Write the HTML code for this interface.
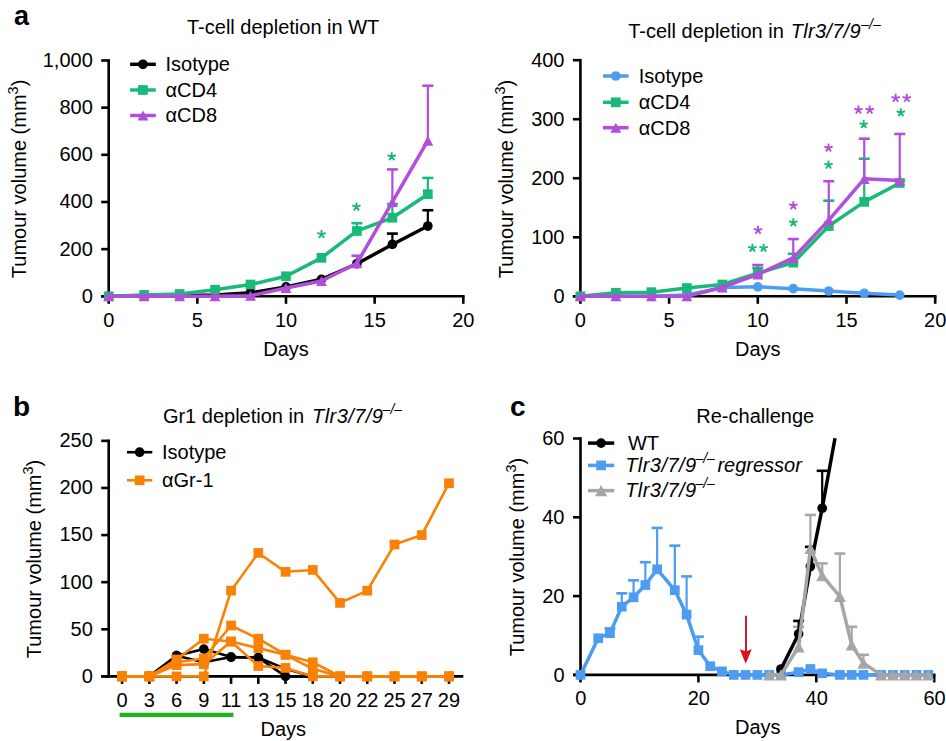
<!DOCTYPE html>
<html><head><meta charset="utf-8"><style>
html,body{margin:0;padding:0;background:#fff;}
svg{display:block;font-family:"Liberation Sans", sans-serif;}
</style></head><body>
<svg width="946" height="741" viewBox="0 0 946 741">
<rect width="946" height="741" fill="#fff"/>
<text x="14.00" y="24.70" font-size="27" text-anchor="start" font-weight="bold" font-style="normal" fill="#000" >a</text>
<text x="187.00" y="33.70" font-size="20" text-anchor="start" font-weight="normal" font-style="normal" fill="#000" >T-cell depletion in WT</text>
<line x1="108.70" y1="59.20" x2="108.70" y2="297.60" stroke="#000" stroke-width="2.6" stroke-linecap="butt"/>
<line x1="101.20" y1="296.30" x2="464.60" y2="296.30" stroke="#000" stroke-width="2.6" stroke-linecap="butt"/>
<line x1="101.20" y1="296.30" x2="108.70" y2="296.30" stroke="#000" stroke-width="2.6" stroke-linecap="butt"/>
<text x="92.80" y="302.70" font-size="20" text-anchor="end" font-weight="normal" font-style="normal" fill="#000" >0</text>
<line x1="101.20" y1="249.14" x2="108.70" y2="249.14" stroke="#000" stroke-width="2.6" stroke-linecap="butt"/>
<text x="92.80" y="255.54" font-size="20" text-anchor="end" font-weight="normal" font-style="normal" fill="#000" >200</text>
<line x1="101.20" y1="201.98" x2="108.70" y2="201.98" stroke="#000" stroke-width="2.6" stroke-linecap="butt"/>
<text x="92.80" y="208.38" font-size="20" text-anchor="end" font-weight="normal" font-style="normal" fill="#000" >400</text>
<line x1="101.20" y1="154.82" x2="108.70" y2="154.82" stroke="#000" stroke-width="2.6" stroke-linecap="butt"/>
<text x="92.80" y="161.22" font-size="20" text-anchor="end" font-weight="normal" font-style="normal" fill="#000" >600</text>
<line x1="101.20" y1="107.66" x2="108.70" y2="107.66" stroke="#000" stroke-width="2.6" stroke-linecap="butt"/>
<text x="92.80" y="114.06" font-size="20" text-anchor="end" font-weight="normal" font-style="normal" fill="#000" >800</text>
<line x1="101.20" y1="60.50" x2="108.70" y2="60.50" stroke="#000" stroke-width="2.6" stroke-linecap="butt"/>
<text x="92.80" y="66.90" font-size="20" text-anchor="end" font-weight="normal" font-style="normal" fill="#000" >1,000</text>
<line x1="108.70" y1="296.30" x2="108.70" y2="303.80" stroke="#000" stroke-width="2.6" stroke-linecap="butt"/>
<text x="108.70" y="327.30" font-size="20" text-anchor="middle" font-weight="normal" font-style="normal" fill="#000" >0</text>
<line x1="197.35" y1="296.30" x2="197.35" y2="303.80" stroke="#000" stroke-width="2.6" stroke-linecap="butt"/>
<text x="197.35" y="327.30" font-size="20" text-anchor="middle" font-weight="normal" font-style="normal" fill="#000" >5</text>
<line x1="286.00" y1="296.30" x2="286.00" y2="303.80" stroke="#000" stroke-width="2.6" stroke-linecap="butt"/>
<text x="286.00" y="327.30" font-size="20" text-anchor="middle" font-weight="normal" font-style="normal" fill="#000" >10</text>
<line x1="374.65" y1="296.30" x2="374.65" y2="303.80" stroke="#000" stroke-width="2.6" stroke-linecap="butt"/>
<text x="374.65" y="327.30" font-size="20" text-anchor="middle" font-weight="normal" font-style="normal" fill="#000" >15</text>
<line x1="463.30" y1="296.30" x2="463.30" y2="303.80" stroke="#000" stroke-width="2.6" stroke-linecap="butt"/>
<text x="463.30" y="327.30" font-size="20" text-anchor="middle" font-weight="normal" font-style="normal" fill="#000" >20</text>
<text x="286.00" y="356.00" font-size="20" text-anchor="middle" font-weight="normal" font-style="normal" fill="#000" >Days</text>
<text transform="translate(25.50,178.90) rotate(-90)" font-size="20" text-anchor="middle">Tumour volume (mm<tspan font-size="14.5" dy="-8">3</tspan><tspan dy="8">)</tspan></text>
<line x1="392.38" y1="244.42" x2="392.38" y2="233.58" stroke="#000000" stroke-width="2.2" stroke-linecap="butt"/>
<line x1="386.88" y1="233.58" x2="397.88" y2="233.58" stroke="#000000" stroke-width="2.6" stroke-linecap="butt"/>
<line x1="427.84" y1="226.03" x2="427.84" y2="210.23" stroke="#000000" stroke-width="2.2" stroke-linecap="butt"/>
<line x1="422.34" y1="210.23" x2="433.34" y2="210.23" stroke="#000000" stroke-width="2.6" stroke-linecap="butt"/>
<line x1="356.92" y1="230.98" x2="356.92" y2="223.20" stroke="#19b978" stroke-width="2.2" stroke-linecap="butt"/>
<line x1="351.42" y1="223.20" x2="362.42" y2="223.20" stroke="#19b978" stroke-width="2.6" stroke-linecap="butt"/>
<line x1="392.38" y1="217.78" x2="392.38" y2="204.10" stroke="#19b978" stroke-width="2.2" stroke-linecap="butt"/>
<line x1="386.88" y1="204.10" x2="397.88" y2="204.10" stroke="#19b978" stroke-width="2.6" stroke-linecap="butt"/>
<line x1="427.84" y1="194.20" x2="427.84" y2="177.93" stroke="#19b978" stroke-width="2.2" stroke-linecap="butt"/>
<line x1="422.34" y1="177.93" x2="433.34" y2="177.93" stroke="#19b978" stroke-width="2.6" stroke-linecap="butt"/>
<line x1="356.92" y1="263.29" x2="356.92" y2="255.74" stroke="#b24ddc" stroke-width="2.2" stroke-linecap="butt"/>
<line x1="351.42" y1="255.74" x2="362.42" y2="255.74" stroke="#b24ddc" stroke-width="2.6" stroke-linecap="butt"/>
<line x1="392.38" y1="201.98" x2="392.38" y2="169.44" stroke="#b24ddc" stroke-width="2.2" stroke-linecap="butt"/>
<line x1="386.88" y1="169.44" x2="397.88" y2="169.44" stroke="#b24ddc" stroke-width="2.6" stroke-linecap="butt"/>
<line x1="427.84" y1="140.67" x2="427.84" y2="85.73" stroke="#b24ddc" stroke-width="2.2" stroke-linecap="butt"/>
<line x1="422.34" y1="85.73" x2="433.34" y2="85.73" stroke="#b24ddc" stroke-width="2.6" stroke-linecap="butt"/>
<polyline points="108.70,296.30 144.16,296.06 179.62,295.83 215.08,295.12 250.54,292.76 286.00,286.87 321.46,279.32 356.92,263.76 392.38,244.42 427.84,226.03" fill="none" stroke="#000000" stroke-width="3.5" stroke-linejoin="round"/>
<circle cx="108.70" cy="296.30" r="4.85" fill="#000000"/>
<circle cx="144.16" cy="296.06" r="4.85" fill="#000000"/>
<circle cx="179.62" cy="295.83" r="4.85" fill="#000000"/>
<circle cx="215.08" cy="295.12" r="4.85" fill="#000000"/>
<circle cx="250.54" cy="292.76" r="4.85" fill="#000000"/>
<circle cx="286.00" cy="286.87" r="4.85" fill="#000000"/>
<circle cx="321.46" cy="279.32" r="4.85" fill="#000000"/>
<circle cx="356.92" cy="263.76" r="4.85" fill="#000000"/>
<circle cx="392.38" cy="244.42" r="4.85" fill="#000000"/>
<circle cx="427.84" cy="226.03" r="4.85" fill="#000000"/>
<polyline points="108.70,296.30 144.16,294.89 179.62,293.94 215.08,289.70 250.54,284.51 286.00,276.26 321.46,257.86 356.92,230.98 392.38,217.78 427.84,194.20" fill="none" stroke="#19b978" stroke-width="3.5" stroke-linejoin="round"/>
<rect x="103.85" y="291.45" width="9.70" height="9.70" fill="#19b978"/>
<rect x="139.31" y="290.04" width="9.70" height="9.70" fill="#19b978"/>
<rect x="174.77" y="289.09" width="9.70" height="9.70" fill="#19b978"/>
<rect x="210.23" y="284.85" width="9.70" height="9.70" fill="#19b978"/>
<rect x="245.69" y="279.66" width="9.70" height="9.70" fill="#19b978"/>
<rect x="281.15" y="271.41" width="9.70" height="9.70" fill="#19b978"/>
<rect x="316.61" y="253.01" width="9.70" height="9.70" fill="#19b978"/>
<rect x="352.07" y="226.13" width="9.70" height="9.70" fill="#19b978"/>
<rect x="387.53" y="212.93" width="9.70" height="9.70" fill="#19b978"/>
<rect x="422.99" y="189.35" width="9.70" height="9.70" fill="#19b978"/>
<polyline points="108.70,296.30 144.16,296.30 179.62,296.30 215.08,296.30 250.54,295.83 286.00,288.05 321.46,280.97 356.92,263.29 392.38,201.98 427.84,140.67" fill="none" stroke="#b24ddc" stroke-width="3.5" stroke-linejoin="round"/>
<polygon points="108.70,291.26 114.13,301.34 103.27,301.34" fill="#b24ddc"/>
<polygon points="144.16,291.26 149.59,301.34 138.73,301.34" fill="#b24ddc"/>
<polygon points="179.62,291.26 185.05,301.34 174.19,301.34" fill="#b24ddc"/>
<polygon points="215.08,291.26 220.51,301.34 209.65,301.34" fill="#b24ddc"/>
<polygon points="250.54,290.78 255.97,300.87 245.11,300.87" fill="#b24ddc"/>
<polygon points="286.00,283.00 291.43,293.09 280.57,293.09" fill="#b24ddc"/>
<polygon points="321.46,275.93 326.89,286.02 316.03,286.02" fill="#b24ddc"/>
<polygon points="356.92,258.24 362.35,268.33 351.49,268.33" fill="#b24ddc"/>
<polygon points="392.38,196.94 397.81,207.02 386.95,207.02" fill="#b24ddc"/>
<polygon points="427.84,135.63 433.27,145.72 422.41,145.72" fill="#b24ddc"/>
<path d="M321.50,234.30L321.50,229.90M321.50,234.30L325.68,232.94M321.50,234.30L324.09,237.86M321.50,234.30L318.91,237.86M321.50,234.30L317.32,232.94" stroke="#19b978" stroke-width="1.9" fill="none"/>
<path d="M356.40,206.80L356.40,202.40M356.40,206.80L360.58,205.44M356.40,206.80L358.99,210.36M356.40,206.80L353.81,210.36M356.40,206.80L352.22,205.44" stroke="#19b978" stroke-width="1.9" fill="none"/>
<path d="M391.70,156.60L391.70,152.20M391.70,156.60L395.88,155.24M391.70,156.60L394.29,160.16M391.70,156.60L389.11,160.16M391.70,156.60L387.52,155.24" stroke="#19b978" stroke-width="1.9" fill="none"/>
<line x1="130.10" y1="64.30" x2="155.80" y2="64.30" stroke="#000000" stroke-width="3.5" stroke-linecap="butt"/>
<circle cx="142.95" cy="64.30" r="4.85" fill="#000000"/>
<text x="165.50" y="71.10" font-size="20">Isotype</text>
<line x1="130.10" y1="90.00" x2="155.80" y2="90.00" stroke="#19b978" stroke-width="3.5" stroke-linecap="butt"/>
<rect x="138.10" y="85.15" width="9.70" height="9.70" fill="#19b978"/>
<text x="165.50" y="96.80" font-size="20">αCD4</text>
<line x1="130.10" y1="115.50" x2="155.80" y2="115.50" stroke="#b24ddc" stroke-width="3.5" stroke-linecap="butt"/>
<polygon points="142.95,110.46 148.38,120.54 137.52,120.54" fill="#b24ddc"/>
<text x="165.50" y="122.30" font-size="20">αCD8</text>
<text x="628.2" y="37.7" font-size="20">T-cell depletion in <tspan x="790.8" font-style="italic" letter-spacing="0.28">Tlr3/7/9</tspan><tspan x="861.3" font-size="14" dy="-9">–<tspan font-style="italic">/</tspan>–</tspan></text>
<line x1="580.40" y1="58.90" x2="580.40" y2="297.60" stroke="#000" stroke-width="2.6" stroke-linecap="butt"/>
<line x1="572.90" y1="296.30" x2="936.50" y2="296.30" stroke="#000" stroke-width="2.6" stroke-linecap="butt"/>
<line x1="572.90" y1="296.30" x2="580.40" y2="296.30" stroke="#000" stroke-width="2.6" stroke-linecap="butt"/>
<text x="564.50" y="302.70" font-size="20" text-anchor="end" font-weight="normal" font-style="normal" fill="#000" >0</text>
<line x1="572.90" y1="237.28" x2="580.40" y2="237.28" stroke="#000" stroke-width="2.6" stroke-linecap="butt"/>
<text x="564.50" y="243.68" font-size="20" text-anchor="end" font-weight="normal" font-style="normal" fill="#000" >100</text>
<line x1="572.90" y1="178.25" x2="580.40" y2="178.25" stroke="#000" stroke-width="2.6" stroke-linecap="butt"/>
<text x="564.50" y="184.65" font-size="20" text-anchor="end" font-weight="normal" font-style="normal" fill="#000" >200</text>
<line x1="572.90" y1="119.22" x2="580.40" y2="119.22" stroke="#000" stroke-width="2.6" stroke-linecap="butt"/>
<text x="564.50" y="125.62" font-size="20" text-anchor="end" font-weight="normal" font-style="normal" fill="#000" >300</text>
<line x1="572.90" y1="60.20" x2="580.40" y2="60.20" stroke="#000" stroke-width="2.6" stroke-linecap="butt"/>
<text x="564.50" y="66.60" font-size="20" text-anchor="end" font-weight="normal" font-style="normal" fill="#000" >400</text>
<line x1="580.40" y1="296.30" x2="580.40" y2="303.80" stroke="#000" stroke-width="2.6" stroke-linecap="butt"/>
<text x="580.40" y="327.30" font-size="20" text-anchor="middle" font-weight="normal" font-style="normal" fill="#000" >0</text>
<line x1="669.10" y1="296.30" x2="669.10" y2="303.80" stroke="#000" stroke-width="2.6" stroke-linecap="butt"/>
<text x="669.10" y="327.30" font-size="20" text-anchor="middle" font-weight="normal" font-style="normal" fill="#000" >5</text>
<line x1="757.80" y1="296.30" x2="757.80" y2="303.80" stroke="#000" stroke-width="2.6" stroke-linecap="butt"/>
<text x="757.80" y="327.30" font-size="20" text-anchor="middle" font-weight="normal" font-style="normal" fill="#000" >10</text>
<line x1="846.50" y1="296.30" x2="846.50" y2="303.80" stroke="#000" stroke-width="2.6" stroke-linecap="butt"/>
<text x="846.50" y="327.30" font-size="20" text-anchor="middle" font-weight="normal" font-style="normal" fill="#000" >15</text>
<line x1="935.20" y1="296.30" x2="935.20" y2="303.80" stroke="#000" stroke-width="2.6" stroke-linecap="butt"/>
<text x="935.20" y="327.30" font-size="20" text-anchor="middle" font-weight="normal" font-style="normal" fill="#000" >20</text>
<text x="757.80" y="356.00" font-size="20" text-anchor="middle" font-weight="normal" font-style="normal" fill="#000" >Days</text>
<text transform="translate(512.80,179.00) rotate(-90)" font-size="20" text-anchor="middle">Tumour volume (mm<tspan font-size="14.5" dy="-8">3</tspan><tspan dy="8">)</tspan></text>
<line x1="757.80" y1="273.28" x2="757.80" y2="267.97" stroke="#19b978" stroke-width="2.2" stroke-linecap="butt"/>
<line x1="752.30" y1="267.97" x2="763.30" y2="267.97" stroke="#19b978" stroke-width="2.6" stroke-linecap="butt"/>
<line x1="793.28" y1="262.66" x2="793.28" y2="253.80" stroke="#19b978" stroke-width="2.2" stroke-linecap="butt"/>
<line x1="787.78" y1="253.80" x2="798.78" y2="253.80" stroke="#19b978" stroke-width="2.6" stroke-linecap="butt"/>
<line x1="828.76" y1="226.06" x2="828.76" y2="200.68" stroke="#19b978" stroke-width="2.2" stroke-linecap="butt"/>
<line x1="823.26" y1="200.68" x2="834.26" y2="200.68" stroke="#19b978" stroke-width="2.6" stroke-linecap="butt"/>
<line x1="864.24" y1="201.86" x2="864.24" y2="158.77" stroke="#19b978" stroke-width="2.2" stroke-linecap="butt"/>
<line x1="858.74" y1="158.77" x2="869.74" y2="158.77" stroke="#19b978" stroke-width="2.6" stroke-linecap="butt"/>
<line x1="899.72" y1="182.97" x2="899.72" y2="180.61" stroke="#19b978" stroke-width="2.2" stroke-linecap="butt"/>
<line x1="894.22" y1="180.61" x2="905.22" y2="180.61" stroke="#19b978" stroke-width="2.6" stroke-linecap="butt"/>
<line x1="757.80" y1="274.46" x2="757.80" y2="265.02" stroke="#b24ddc" stroke-width="2.2" stroke-linecap="butt"/>
<line x1="752.30" y1="265.02" x2="763.30" y2="265.02" stroke="#b24ddc" stroke-width="2.6" stroke-linecap="butt"/>
<line x1="793.28" y1="257.93" x2="793.28" y2="239.05" stroke="#b24ddc" stroke-width="2.2" stroke-linecap="butt"/>
<line x1="787.78" y1="239.05" x2="798.78" y2="239.05" stroke="#b24ddc" stroke-width="2.6" stroke-linecap="butt"/>
<line x1="828.76" y1="220.16" x2="828.76" y2="181.20" stroke="#b24ddc" stroke-width="2.2" stroke-linecap="butt"/>
<line x1="823.26" y1="181.20" x2="834.26" y2="181.20" stroke="#b24ddc" stroke-width="2.6" stroke-linecap="butt"/>
<line x1="864.24" y1="178.84" x2="864.24" y2="138.70" stroke="#b24ddc" stroke-width="2.2" stroke-linecap="butt"/>
<line x1="858.74" y1="138.70" x2="869.74" y2="138.70" stroke="#b24ddc" stroke-width="2.6" stroke-linecap="butt"/>
<line x1="899.72" y1="180.61" x2="899.72" y2="133.98" stroke="#b24ddc" stroke-width="2.2" stroke-linecap="butt"/>
<line x1="894.22" y1="133.98" x2="905.22" y2="133.98" stroke="#b24ddc" stroke-width="2.6" stroke-linecap="butt"/>
<polyline points="580.40,296.30 615.88,296.30 651.36,296.30 686.84,295.12 722.32,287.45 757.80,286.86 793.28,288.63 828.76,290.99 864.24,293.35 899.72,295.12" fill="none" stroke="#4e9cf1" stroke-width="3.5" stroke-linejoin="round"/>
<circle cx="580.40" cy="296.30" r="4.85" fill="#4e9cf1"/>
<circle cx="615.88" cy="296.30" r="4.85" fill="#4e9cf1"/>
<circle cx="651.36" cy="296.30" r="4.85" fill="#4e9cf1"/>
<circle cx="686.84" cy="295.12" r="4.85" fill="#4e9cf1"/>
<circle cx="722.32" cy="287.45" r="4.85" fill="#4e9cf1"/>
<circle cx="757.80" cy="286.86" r="4.85" fill="#4e9cf1"/>
<circle cx="793.28" cy="288.63" r="4.85" fill="#4e9cf1"/>
<circle cx="828.76" cy="290.99" r="4.85" fill="#4e9cf1"/>
<circle cx="864.24" cy="293.35" r="4.85" fill="#4e9cf1"/>
<circle cx="899.72" cy="295.12" r="4.85" fill="#4e9cf1"/>
<polyline points="580.40,296.30 615.88,292.76 651.36,292.17 686.84,288.04 722.32,284.50 757.80,273.28 793.28,262.66 828.76,226.06 864.24,201.86 899.72,182.97" fill="none" stroke="#19b978" stroke-width="3.5" stroke-linejoin="round"/>
<rect x="575.55" y="291.45" width="9.70" height="9.70" fill="#19b978"/>
<rect x="611.03" y="287.91" width="9.70" height="9.70" fill="#19b978"/>
<rect x="646.51" y="287.32" width="9.70" height="9.70" fill="#19b978"/>
<rect x="681.99" y="283.19" width="9.70" height="9.70" fill="#19b978"/>
<rect x="717.47" y="279.64" width="9.70" height="9.70" fill="#19b978"/>
<rect x="752.95" y="268.43" width="9.70" height="9.70" fill="#19b978"/>
<rect x="788.43" y="257.81" width="9.70" height="9.70" fill="#19b978"/>
<rect x="823.91" y="221.21" width="9.70" height="9.70" fill="#19b978"/>
<rect x="859.39" y="197.01" width="9.70" height="9.70" fill="#19b978"/>
<rect x="894.87" y="178.12" width="9.70" height="9.70" fill="#19b978"/>
<polyline points="580.40,296.30 615.88,296.30 651.36,296.30 686.84,296.30 722.32,287.45 757.80,274.46 793.28,257.93 828.76,220.16 864.24,178.84 899.72,180.61" fill="none" stroke="#b24ddc" stroke-width="3.5" stroke-linejoin="round"/>
<polygon points="580.40,291.26 585.83,301.34 574.97,301.34" fill="#b24ddc"/>
<polygon points="615.88,291.26 621.31,301.34 610.45,301.34" fill="#b24ddc"/>
<polygon points="651.36,291.26 656.79,301.34 645.93,301.34" fill="#b24ddc"/>
<polygon points="686.84,291.26 692.27,301.34 681.41,301.34" fill="#b24ddc"/>
<polygon points="722.32,282.40 727.75,292.49 716.89,292.49" fill="#b24ddc"/>
<polygon points="757.80,269.42 763.23,279.50 752.37,279.50" fill="#b24ddc"/>
<polygon points="793.28,252.89 798.71,262.98 787.85,262.98" fill="#b24ddc"/>
<polygon points="828.76,215.11 834.19,225.20 823.33,225.20" fill="#b24ddc"/>
<polygon points="864.24,173.80 869.67,183.88 858.81,183.88" fill="#b24ddc"/>
<polygon points="899.72,175.57 905.15,185.66 894.29,185.66" fill="#b24ddc"/>
<path d="M758.00,230.20L758.00,225.80M758.00,230.20L762.18,228.84M758.00,230.20L760.59,233.76M758.00,230.20L755.41,233.76M758.00,230.20L753.82,228.84" stroke="#b24ddc" stroke-width="1.9" fill="none"/>
<path d="M752.40,248.10L752.40,243.70M752.40,248.10L756.58,246.74M752.40,248.10L754.99,251.66M752.40,248.10L749.81,251.66M752.40,248.10L748.22,246.74" stroke="#19b978" stroke-width="1.9" fill="none"/>
<path d="M763.60,248.10L763.60,243.70M763.60,248.10L767.78,246.74M763.60,248.10L766.19,251.66M763.60,248.10L761.01,251.66M763.60,248.10L759.42,246.74" stroke="#19b978" stroke-width="1.9" fill="none"/>
<path d="M793.30,205.60L793.30,201.20M793.30,205.60L797.48,204.24M793.30,205.60L795.89,209.16M793.30,205.60L790.71,209.16M793.30,205.60L789.12,204.24" stroke="#b24ddc" stroke-width="1.9" fill="none"/>
<path d="M793.30,222.60L793.30,218.20M793.30,222.60L797.48,221.24M793.30,222.60L795.89,226.16M793.30,222.60L790.71,226.16M793.30,222.60L789.12,221.24" stroke="#19b978" stroke-width="1.9" fill="none"/>
<path d="M828.50,148.00L828.50,143.60M828.50,148.00L832.68,146.64M828.50,148.00L831.09,151.56M828.50,148.00L825.91,151.56M828.50,148.00L824.32,146.64" stroke="#b24ddc" stroke-width="1.9" fill="none"/>
<path d="M828.50,165.00L828.50,160.60M828.50,165.00L832.68,163.64M828.50,165.00L831.09,168.56M828.50,165.00L825.91,168.56M828.50,165.00L824.32,163.64" stroke="#19b978" stroke-width="1.9" fill="none"/>
<path d="M858.50,110.00L858.50,105.60M858.50,110.00L862.68,108.64M858.50,110.00L861.09,113.56M858.50,110.00L855.91,113.56M858.50,110.00L854.32,108.64" stroke="#b24ddc" stroke-width="1.9" fill="none"/>
<path d="M869.70,110.00L869.70,105.60M869.70,110.00L873.88,108.64M869.70,110.00L872.29,113.56M869.70,110.00L867.11,113.56M869.70,110.00L865.52,108.64" stroke="#b24ddc" stroke-width="1.9" fill="none"/>
<path d="M863.70,124.40L863.70,120.00M863.70,124.40L867.88,123.04M863.70,124.40L866.29,127.96M863.70,124.40L861.11,127.96M863.70,124.40L859.52,123.04" stroke="#19b978" stroke-width="1.9" fill="none"/>
<path d="M895.60,98.20L895.60,93.80M895.60,98.20L899.78,96.84M895.60,98.20L898.19,101.76M895.60,98.20L893.01,101.76M895.60,98.20L891.42,96.84" stroke="#b24ddc" stroke-width="1.9" fill="none"/>
<path d="M906.80,98.20L906.80,93.80M906.80,98.20L910.98,96.84M906.80,98.20L909.39,101.76M906.80,98.20L904.21,101.76M906.80,98.20L902.62,96.84" stroke="#b24ddc" stroke-width="1.9" fill="none"/>
<path d="M900.80,112.60L900.80,108.20M900.80,112.60L904.98,111.24M900.80,112.60L903.39,116.16M900.80,112.60L898.21,116.16M900.80,112.60L896.62,111.24" stroke="#19b978" stroke-width="1.9" fill="none"/>
<line x1="603.00" y1="76.00" x2="628.60" y2="76.00" stroke="#4e9cf1" stroke-width="3.5" stroke-linecap="butt"/>
<circle cx="615.80" cy="76.00" r="4.85" fill="#4e9cf1"/>
<text x="638.80" y="82.80" font-size="20">Isotype</text>
<line x1="603.00" y1="102.30" x2="628.60" y2="102.30" stroke="#19b978" stroke-width="3.5" stroke-linecap="butt"/>
<rect x="610.95" y="97.45" width="9.70" height="9.70" fill="#19b978"/>
<text x="638.80" y="109.10" font-size="20">αCD4</text>
<line x1="603.00" y1="127.70" x2="628.60" y2="127.70" stroke="#b24ddc" stroke-width="3.5" stroke-linecap="butt"/>
<polygon points="615.80,122.66 621.23,132.74 610.37,132.74" fill="#b24ddc"/>
<text x="638.80" y="134.50" font-size="20">αCD8</text>
<text x="13.00" y="416.10" font-size="28" text-anchor="start" font-weight="bold" font-style="normal" fill="#000" >b</text>
<text x="162.9" y="422.7" font-size="20">Gr1 depletion in <tspan x="312" font-style="italic" letter-spacing="0.45">Tlr3/7/9</tspan><tspan x="382.6" font-size="14" dy="-9">–<tspan font-style="italic">/</tspan>–</tspan></text>
<line x1="108.70" y1="439.55" x2="108.70" y2="677.70" stroke="#000" stroke-width="2.6" stroke-linecap="butt"/>
<line x1="101.20" y1="676.40" x2="463.30" y2="676.40" stroke="#000" stroke-width="2.6" stroke-linecap="butt"/>
<line x1="101.20" y1="676.40" x2="108.70" y2="676.40" stroke="#000" stroke-width="2.6" stroke-linecap="butt"/>
<text x="92.80" y="682.80" font-size="20" text-anchor="end" font-weight="normal" font-style="normal" fill="#000" >0</text>
<line x1="101.20" y1="629.29" x2="108.70" y2="629.29" stroke="#000" stroke-width="2.6" stroke-linecap="butt"/>
<text x="92.80" y="635.69" font-size="20" text-anchor="end" font-weight="normal" font-style="normal" fill="#000" >50</text>
<line x1="101.20" y1="582.18" x2="108.70" y2="582.18" stroke="#000" stroke-width="2.6" stroke-linecap="butt"/>
<text x="92.80" y="588.58" font-size="20" text-anchor="end" font-weight="normal" font-style="normal" fill="#000" >100</text>
<line x1="101.20" y1="535.07" x2="108.70" y2="535.07" stroke="#000" stroke-width="2.6" stroke-linecap="butt"/>
<text x="92.80" y="541.47" font-size="20" text-anchor="end" font-weight="normal" font-style="normal" fill="#000" >150</text>
<line x1="101.20" y1="487.96" x2="108.70" y2="487.96" stroke="#000" stroke-width="2.6" stroke-linecap="butt"/>
<text x="92.80" y="494.36" font-size="20" text-anchor="end" font-weight="normal" font-style="normal" fill="#000" >200</text>
<line x1="101.20" y1="440.85" x2="108.70" y2="440.85" stroke="#000" stroke-width="2.6" stroke-linecap="butt"/>
<text x="92.80" y="447.25" font-size="20" text-anchor="end" font-weight="normal" font-style="normal" fill="#000" >250</text>
<line x1="122.10" y1="676.40" x2="122.10" y2="683.90" stroke="#000" stroke-width="2.6" stroke-linecap="butt"/>
<text x="122.10" y="707.10" font-size="20" text-anchor="middle" font-weight="normal" font-style="normal" fill="#000" >0</text>
<line x1="149.34" y1="676.40" x2="149.34" y2="683.90" stroke="#000" stroke-width="2.6" stroke-linecap="butt"/>
<text x="149.34" y="707.10" font-size="20" text-anchor="middle" font-weight="normal" font-style="normal" fill="#000" >3</text>
<line x1="176.58" y1="676.40" x2="176.58" y2="683.90" stroke="#000" stroke-width="2.6" stroke-linecap="butt"/>
<text x="176.58" y="707.10" font-size="20" text-anchor="middle" font-weight="normal" font-style="normal" fill="#000" >6</text>
<line x1="203.82" y1="676.40" x2="203.82" y2="683.90" stroke="#000" stroke-width="2.6" stroke-linecap="butt"/>
<text x="203.82" y="707.10" font-size="20" text-anchor="middle" font-weight="normal" font-style="normal" fill="#000" >9</text>
<line x1="231.06" y1="676.40" x2="231.06" y2="683.90" stroke="#000" stroke-width="2.6" stroke-linecap="butt"/>
<text x="231.06" y="707.10" font-size="20" text-anchor="middle" font-weight="normal" font-style="normal" fill="#000" >11</text>
<line x1="258.30" y1="676.40" x2="258.30" y2="683.90" stroke="#000" stroke-width="2.6" stroke-linecap="butt"/>
<text x="258.30" y="707.10" font-size="20" text-anchor="middle" font-weight="normal" font-style="normal" fill="#000" >13</text>
<line x1="285.54" y1="676.40" x2="285.54" y2="683.90" stroke="#000" stroke-width="2.6" stroke-linecap="butt"/>
<text x="285.54" y="707.10" font-size="20" text-anchor="middle" font-weight="normal" font-style="normal" fill="#000" >15</text>
<line x1="312.78" y1="676.40" x2="312.78" y2="683.90" stroke="#000" stroke-width="2.6" stroke-linecap="butt"/>
<text x="312.78" y="707.10" font-size="20" text-anchor="middle" font-weight="normal" font-style="normal" fill="#000" >18</text>
<line x1="340.02" y1="676.40" x2="340.02" y2="683.90" stroke="#000" stroke-width="2.6" stroke-linecap="butt"/>
<text x="340.02" y="707.10" font-size="20" text-anchor="middle" font-weight="normal" font-style="normal" fill="#000" >20</text>
<line x1="367.26" y1="676.40" x2="367.26" y2="683.90" stroke="#000" stroke-width="2.6" stroke-linecap="butt"/>
<text x="367.26" y="707.10" font-size="20" text-anchor="middle" font-weight="normal" font-style="normal" fill="#000" >22</text>
<line x1="394.50" y1="676.40" x2="394.50" y2="683.90" stroke="#000" stroke-width="2.6" stroke-linecap="butt"/>
<text x="394.50" y="707.10" font-size="20" text-anchor="middle" font-weight="normal" font-style="normal" fill="#000" >25</text>
<line x1="421.74" y1="676.40" x2="421.74" y2="683.90" stroke="#000" stroke-width="2.6" stroke-linecap="butt"/>
<text x="421.74" y="707.10" font-size="20" text-anchor="middle" font-weight="normal" font-style="normal" fill="#000" >27</text>
<line x1="448.98" y1="676.40" x2="448.98" y2="683.90" stroke="#000" stroke-width="2.6" stroke-linecap="butt"/>
<text x="448.98" y="707.10" font-size="20" text-anchor="middle" font-weight="normal" font-style="normal" fill="#000" >29</text>
<text x="283.30" y="736.40" font-size="20" text-anchor="middle" font-weight="normal" font-style="normal" fill="#000" >Days</text>
<text transform="translate(40.50,559.00) rotate(-90)" font-size="20" text-anchor="middle">Tumour volume (mm<tspan font-size="14.5" dy="-8">3</tspan><tspan dy="8">)</tspan></text>
<line x1="119.60" y1="714.90" x2="233.40" y2="714.90" stroke="#1eb41e" stroke-width="4.3" stroke-linecap="butt"/>
<polyline points="122.10,676.40 149.34,676.40 176.58,655.67 203.82,649.08 231.06,657.08 258.30,657.56 285.54,676.40 312.78,676.40" fill="none" stroke="#000000" stroke-width="2.6" stroke-linejoin="round"/>
<polyline points="122.10,676.40 149.34,676.40 176.58,655.67 203.82,662.27 231.06,657.08 258.30,657.56 285.54,668.86 312.78,676.40" fill="none" stroke="#000000" stroke-width="2.6" stroke-linejoin="round"/>
<circle cx="122.10" cy="676.40" r="4.85" fill="#000000"/>
<circle cx="149.34" cy="676.40" r="4.85" fill="#000000"/>
<circle cx="176.58" cy="655.67" r="4.85" fill="#000000"/>
<circle cx="203.82" cy="649.08" r="4.85" fill="#000000"/>
<circle cx="231.06" cy="657.08" r="4.85" fill="#000000"/>
<circle cx="258.30" cy="657.56" r="4.85" fill="#000000"/>
<circle cx="285.54" cy="676.40" r="4.85" fill="#000000"/>
<circle cx="312.78" cy="676.40" r="4.85" fill="#000000"/>
<circle cx="122.10" cy="676.40" r="4.85" fill="#000000"/>
<circle cx="149.34" cy="676.40" r="4.85" fill="#000000"/>
<circle cx="176.58" cy="655.67" r="4.85" fill="#000000"/>
<circle cx="203.82" cy="662.27" r="4.85" fill="#000000"/>
<circle cx="231.06" cy="657.08" r="4.85" fill="#000000"/>
<circle cx="258.30" cy="657.56" r="4.85" fill="#000000"/>
<circle cx="285.54" cy="668.86" r="4.85" fill="#000000"/>
<circle cx="312.78" cy="676.40" r="4.85" fill="#000000"/>
<polyline points="122.10,676.40 149.34,676.40 176.58,676.40 203.82,676.40 231.06,590.66 258.30,552.97 285.54,571.82 312.78,569.93 340.02,602.91 367.26,590.66 394.50,544.49 421.74,535.07 448.98,483.25" fill="none" stroke="#f98206" stroke-width="2.6" stroke-linejoin="round"/>
<polyline points="122.10,676.40 149.34,676.40 176.58,659.44 203.82,638.71 231.06,641.54 258.30,648.13 285.54,654.73 312.78,662.27 340.02,676.40 367.26,676.40 394.50,676.40 421.74,676.40 448.98,676.40" fill="none" stroke="#f98206" stroke-width="2.6" stroke-linejoin="round"/>
<polyline points="122.10,676.40 149.34,676.40 176.58,662.27 203.82,658.50 231.06,625.52 258.30,638.71 285.54,654.73 312.78,668.86 340.02,676.40 367.26,676.40 394.50,676.40 421.74,676.40 448.98,676.40" fill="none" stroke="#f98206" stroke-width="2.6" stroke-linejoin="round"/>
<polyline points="122.10,676.40 149.34,676.40 176.58,665.09 203.82,664.15 231.06,641.54 258.30,666.04 285.54,667.92 312.78,676.40 340.02,676.40 367.26,676.40 394.50,676.40 421.74,676.40 448.98,676.40" fill="none" stroke="#f98206" stroke-width="2.6" stroke-linejoin="round"/>
<rect x="117.25" y="671.55" width="9.70" height="9.70" fill="#f98206"/>
<rect x="144.49" y="671.55" width="9.70" height="9.70" fill="#f98206"/>
<rect x="171.73" y="671.55" width="9.70" height="9.70" fill="#f98206"/>
<rect x="198.97" y="671.55" width="9.70" height="9.70" fill="#f98206"/>
<rect x="226.21" y="585.81" width="9.70" height="9.70" fill="#f98206"/>
<rect x="253.45" y="548.12" width="9.70" height="9.70" fill="#f98206"/>
<rect x="280.69" y="566.97" width="9.70" height="9.70" fill="#f98206"/>
<rect x="307.93" y="565.08" width="9.70" height="9.70" fill="#f98206"/>
<rect x="335.17" y="598.06" width="9.70" height="9.70" fill="#f98206"/>
<rect x="362.41" y="585.81" width="9.70" height="9.70" fill="#f98206"/>
<rect x="389.65" y="539.64" width="9.70" height="9.70" fill="#f98206"/>
<rect x="416.89" y="530.22" width="9.70" height="9.70" fill="#f98206"/>
<rect x="444.13" y="478.40" width="9.70" height="9.70" fill="#f98206"/>
<rect x="117.25" y="671.55" width="9.70" height="9.70" fill="#f98206"/>
<rect x="144.49" y="671.55" width="9.70" height="9.70" fill="#f98206"/>
<rect x="171.73" y="654.59" width="9.70" height="9.70" fill="#f98206"/>
<rect x="198.97" y="633.86" width="9.70" height="9.70" fill="#f98206"/>
<rect x="226.21" y="636.69" width="9.70" height="9.70" fill="#f98206"/>
<rect x="253.45" y="643.28" width="9.70" height="9.70" fill="#f98206"/>
<rect x="280.69" y="649.88" width="9.70" height="9.70" fill="#f98206"/>
<rect x="307.93" y="657.42" width="9.70" height="9.70" fill="#f98206"/>
<rect x="335.17" y="671.55" width="9.70" height="9.70" fill="#f98206"/>
<rect x="362.41" y="671.55" width="9.70" height="9.70" fill="#f98206"/>
<rect x="389.65" y="671.55" width="9.70" height="9.70" fill="#f98206"/>
<rect x="416.89" y="671.55" width="9.70" height="9.70" fill="#f98206"/>
<rect x="444.13" y="671.55" width="9.70" height="9.70" fill="#f98206"/>
<rect x="117.25" y="671.55" width="9.70" height="9.70" fill="#f98206"/>
<rect x="144.49" y="671.55" width="9.70" height="9.70" fill="#f98206"/>
<rect x="171.73" y="657.42" width="9.70" height="9.70" fill="#f98206"/>
<rect x="198.97" y="653.65" width="9.70" height="9.70" fill="#f98206"/>
<rect x="226.21" y="620.67" width="9.70" height="9.70" fill="#f98206"/>
<rect x="253.45" y="633.86" width="9.70" height="9.70" fill="#f98206"/>
<rect x="280.69" y="649.88" width="9.70" height="9.70" fill="#f98206"/>
<rect x="307.93" y="664.01" width="9.70" height="9.70" fill="#f98206"/>
<rect x="335.17" y="671.55" width="9.70" height="9.70" fill="#f98206"/>
<rect x="362.41" y="671.55" width="9.70" height="9.70" fill="#f98206"/>
<rect x="389.65" y="671.55" width="9.70" height="9.70" fill="#f98206"/>
<rect x="416.89" y="671.55" width="9.70" height="9.70" fill="#f98206"/>
<rect x="444.13" y="671.55" width="9.70" height="9.70" fill="#f98206"/>
<rect x="117.25" y="671.55" width="9.70" height="9.70" fill="#f98206"/>
<rect x="144.49" y="671.55" width="9.70" height="9.70" fill="#f98206"/>
<rect x="171.73" y="660.24" width="9.70" height="9.70" fill="#f98206"/>
<rect x="198.97" y="659.30" width="9.70" height="9.70" fill="#f98206"/>
<rect x="226.21" y="636.69" width="9.70" height="9.70" fill="#f98206"/>
<rect x="253.45" y="661.19" width="9.70" height="9.70" fill="#f98206"/>
<rect x="280.69" y="663.07" width="9.70" height="9.70" fill="#f98206"/>
<rect x="307.93" y="671.55" width="9.70" height="9.70" fill="#f98206"/>
<rect x="335.17" y="671.55" width="9.70" height="9.70" fill="#f98206"/>
<rect x="362.41" y="671.55" width="9.70" height="9.70" fill="#f98206"/>
<rect x="389.65" y="671.55" width="9.70" height="9.70" fill="#f98206"/>
<rect x="416.89" y="671.55" width="9.70" height="9.70" fill="#f98206"/>
<rect x="444.13" y="671.55" width="9.70" height="9.70" fill="#f98206"/>
<line x1="127.00" y1="452.20" x2="152.30" y2="452.20" stroke="#000000" stroke-width="2.6" stroke-linecap="butt"/>
<circle cx="139.65" cy="452.20" r="4.85" fill="#000000"/>
<text x="162.00" y="459.00" font-size="20">Isotype</text>
<line x1="127.00" y1="480.30" x2="152.30" y2="480.30" stroke="#f98206" stroke-width="2.6" stroke-linecap="butt"/>
<rect x="134.80" y="475.45" width="9.70" height="9.70" fill="#f98206"/>
<text x="162.00" y="487.10" font-size="20">αGr-1</text>
<text x="510.00" y="416.40" font-size="28" text-anchor="start" font-weight="bold" font-style="normal" fill="#000" >c</text>
<text x="696.30" y="422.70" font-size="20" text-anchor="start" font-weight="normal" font-style="normal" fill="#000" >Re-challenge</text>
<line x1="580.50" y1="437.20" x2="580.50" y2="676.20" stroke="#000" stroke-width="2.6" stroke-linecap="butt"/>
<line x1="573.00" y1="674.90" x2="935.50" y2="674.90" stroke="#000" stroke-width="2.6" stroke-linecap="butt"/>
<line x1="573.00" y1="674.90" x2="580.50" y2="674.90" stroke="#000" stroke-width="2.6" stroke-linecap="butt"/>
<text x="564.50" y="681.50" font-size="20" text-anchor="end" font-weight="normal" font-style="normal" fill="#000" >0</text>
<line x1="573.00" y1="596.10" x2="580.50" y2="596.10" stroke="#000" stroke-width="2.6" stroke-linecap="butt"/>
<text x="564.50" y="602.70" font-size="20" text-anchor="end" font-weight="normal" font-style="normal" fill="#000" >20</text>
<line x1="573.00" y1="517.30" x2="580.50" y2="517.30" stroke="#000" stroke-width="2.6" stroke-linecap="butt"/>
<text x="564.50" y="523.90" font-size="20" text-anchor="end" font-weight="normal" font-style="normal" fill="#000" >40</text>
<line x1="573.00" y1="438.50" x2="580.50" y2="438.50" stroke="#000" stroke-width="2.6" stroke-linecap="butt"/>
<text x="564.50" y="445.10" font-size="20" text-anchor="end" font-weight="normal" font-style="normal" fill="#000" >60</text>
<line x1="580.50" y1="674.90" x2="580.50" y2="682.40" stroke="#000" stroke-width="2.6" stroke-linecap="butt"/>
<text x="580.90" y="704.90" font-size="20" text-anchor="middle" font-weight="normal" font-style="normal" fill="#000" >0</text>
<line x1="698.40" y1="674.90" x2="698.40" y2="682.40" stroke="#000" stroke-width="2.6" stroke-linecap="butt"/>
<text x="698.80" y="704.90" font-size="20" text-anchor="middle" font-weight="normal" font-style="normal" fill="#000" >20</text>
<line x1="816.30" y1="674.90" x2="816.30" y2="682.40" stroke="#000" stroke-width="2.6" stroke-linecap="butt"/>
<text x="816.70" y="704.90" font-size="20" text-anchor="middle" font-weight="normal" font-style="normal" fill="#000" >40</text>
<line x1="934.20" y1="674.90" x2="934.20" y2="682.40" stroke="#000" stroke-width="2.6" stroke-linecap="butt"/>
<text x="934.60" y="704.90" font-size="20" text-anchor="middle" font-weight="normal" font-style="normal" fill="#000" >60</text>
<text x="757.80" y="734.00" font-size="20" text-anchor="middle" font-weight="normal" font-style="normal" fill="#000" >Days</text>
<text transform="translate(523.90,557.10) rotate(-90)" font-size="20" text-anchor="middle">Tumour volume (mm<tspan font-size="14.5" dy="-8">3</tspan><tspan dy="8">)</tspan></text>
<line x1="609.98" y1="633.14" x2="609.98" y2="628.41" stroke="#4e9cf1" stroke-width="2.2" stroke-linecap="butt"/>
<line x1="604.48" y1="628.41" x2="615.48" y2="628.41" stroke="#4e9cf1" stroke-width="2.6" stroke-linecap="butt"/>
<line x1="621.76" y1="606.74" x2="621.76" y2="593.34" stroke="#4e9cf1" stroke-width="2.2" stroke-linecap="butt"/>
<line x1="616.26" y1="593.34" x2="627.26" y2="593.34" stroke="#4e9cf1" stroke-width="2.6" stroke-linecap="butt"/>
<line x1="633.56" y1="597.28" x2="633.56" y2="580.34" stroke="#4e9cf1" stroke-width="2.2" stroke-linecap="butt"/>
<line x1="628.06" y1="580.34" x2="639.06" y2="580.34" stroke="#4e9cf1" stroke-width="2.6" stroke-linecap="butt"/>
<line x1="645.35" y1="585.07" x2="645.35" y2="562.22" stroke="#4e9cf1" stroke-width="2.2" stroke-linecap="butt"/>
<line x1="639.85" y1="562.22" x2="650.85" y2="562.22" stroke="#4e9cf1" stroke-width="2.6" stroke-linecap="butt"/>
<line x1="657.13" y1="569.31" x2="657.13" y2="527.94" stroke="#4e9cf1" stroke-width="2.2" stroke-linecap="butt"/>
<line x1="651.63" y1="527.94" x2="662.63" y2="527.94" stroke="#4e9cf1" stroke-width="2.6" stroke-linecap="butt"/>
<line x1="674.82" y1="590.19" x2="674.82" y2="545.67" stroke="#4e9cf1" stroke-width="2.2" stroke-linecap="butt"/>
<line x1="669.32" y1="545.67" x2="680.32" y2="545.67" stroke="#4e9cf1" stroke-width="2.6" stroke-linecap="butt"/>
<line x1="686.61" y1="614.62" x2="686.61" y2="576.40" stroke="#4e9cf1" stroke-width="2.2" stroke-linecap="butt"/>
<line x1="681.11" y1="576.40" x2="692.11" y2="576.40" stroke="#4e9cf1" stroke-width="2.6" stroke-linecap="butt"/>
<line x1="698.40" y1="650.08" x2="698.40" y2="636.68" stroke="#4e9cf1" stroke-width="2.2" stroke-linecap="butt"/>
<line x1="692.90" y1="636.68" x2="703.90" y2="636.68" stroke="#4e9cf1" stroke-width="2.6" stroke-linecap="butt"/>
<line x1="798.62" y1="646.93" x2="798.62" y2="626.83" stroke="#a6a6a9" stroke-width="2.2" stroke-linecap="butt"/>
<line x1="793.12" y1="626.83" x2="804.12" y2="626.83" stroke="#a6a6a9" stroke-width="2.6" stroke-linecap="butt"/>
<line x1="810.40" y1="548.43" x2="810.40" y2="514.94" stroke="#a6a6a9" stroke-width="2.2" stroke-linecap="butt"/>
<line x1="804.90" y1="514.94" x2="815.90" y2="514.94" stroke="#a6a6a9" stroke-width="2.6" stroke-linecap="butt"/>
<line x1="822.20" y1="575.61" x2="822.20" y2="563.40" stroke="#a6a6a9" stroke-width="2.2" stroke-linecap="butt"/>
<line x1="816.70" y1="563.40" x2="827.70" y2="563.40" stroke="#a6a6a9" stroke-width="2.6" stroke-linecap="butt"/>
<line x1="839.88" y1="596.49" x2="839.88" y2="553.55" stroke="#a6a6a9" stroke-width="2.2" stroke-linecap="butt"/>
<line x1="834.38" y1="553.55" x2="845.38" y2="553.55" stroke="#a6a6a9" stroke-width="2.6" stroke-linecap="butt"/>
<line x1="851.67" y1="644.96" x2="851.67" y2="626.83" stroke="#a6a6a9" stroke-width="2.2" stroke-linecap="butt"/>
<line x1="846.17" y1="626.83" x2="857.17" y2="626.83" stroke="#a6a6a9" stroke-width="2.6" stroke-linecap="butt"/>
<line x1="863.46" y1="663.08" x2="863.46" y2="654.81" stroke="#a6a6a9" stroke-width="2.2" stroke-linecap="butt"/>
<line x1="857.96" y1="654.81" x2="868.96" y2="654.81" stroke="#a6a6a9" stroke-width="2.6" stroke-linecap="butt"/>
<line x1="798.62" y1="633.92" x2="798.62" y2="620.92" stroke="#000000" stroke-width="2.2" stroke-linecap="butt"/>
<line x1="793.12" y1="620.92" x2="804.12" y2="620.92" stroke="#000000" stroke-width="2.6" stroke-linecap="butt"/>
<line x1="810.40" y1="566.55" x2="810.40" y2="546.85" stroke="#000000" stroke-width="2.2" stroke-linecap="butt"/>
<line x1="804.90" y1="546.85" x2="815.90" y2="546.85" stroke="#000000" stroke-width="2.6" stroke-linecap="butt"/>
<line x1="822.20" y1="508.24" x2="822.20" y2="470.81" stroke="#000000" stroke-width="2.2" stroke-linecap="butt"/>
<line x1="816.70" y1="470.81" x2="827.70" y2="470.81" stroke="#000000" stroke-width="2.6" stroke-linecap="butt"/>
<polyline points="580.50,674.90 598.18,638.26 609.98,633.14 621.76,606.74 633.56,597.28 645.35,585.07 657.13,569.31 674.82,590.19 686.61,614.62 698.40,650.08 710.19,666.23 721.98,671.35 733.77,674.90 745.56,674.90 757.35,674.90 769.14,674.90 780.93,674.90 798.62,672.14 810.40,668.99 822.20,673.32 839.88,674.90 851.67,674.90 863.46,674.90 881.14,674.90 892.93,674.90 904.73,674.90 916.52,674.90 928.31,674.90" fill="none" stroke="#4e9cf1" stroke-width="3.5" stroke-linejoin="round"/>
<rect x="575.65" y="670.05" width="9.70" height="9.70" fill="#4e9cf1"/>
<rect x="593.33" y="633.41" width="9.70" height="9.70" fill="#4e9cf1"/>
<rect x="605.12" y="628.29" width="9.70" height="9.70" fill="#4e9cf1"/>
<rect x="616.91" y="601.89" width="9.70" height="9.70" fill="#4e9cf1"/>
<rect x="628.71" y="592.43" width="9.70" height="9.70" fill="#4e9cf1"/>
<rect x="640.50" y="580.22" width="9.70" height="9.70" fill="#4e9cf1"/>
<rect x="652.28" y="564.46" width="9.70" height="9.70" fill="#4e9cf1"/>
<rect x="669.97" y="585.34" width="9.70" height="9.70" fill="#4e9cf1"/>
<rect x="681.76" y="609.77" width="9.70" height="9.70" fill="#4e9cf1"/>
<rect x="693.55" y="645.23" width="9.70" height="9.70" fill="#4e9cf1"/>
<rect x="705.34" y="661.38" width="9.70" height="9.70" fill="#4e9cf1"/>
<rect x="717.13" y="666.50" width="9.70" height="9.70" fill="#4e9cf1"/>
<rect x="728.92" y="670.05" width="9.70" height="9.70" fill="#4e9cf1"/>
<rect x="740.71" y="670.05" width="9.70" height="9.70" fill="#4e9cf1"/>
<rect x="752.50" y="670.05" width="9.70" height="9.70" fill="#4e9cf1"/>
<rect x="764.29" y="670.05" width="9.70" height="9.70" fill="#4e9cf1"/>
<rect x="776.08" y="670.05" width="9.70" height="9.70" fill="#4e9cf1"/>
<rect x="793.76" y="667.29" width="9.70" height="9.70" fill="#4e9cf1"/>
<rect x="805.55" y="664.14" width="9.70" height="9.70" fill="#4e9cf1"/>
<rect x="817.35" y="668.47" width="9.70" height="9.70" fill="#4e9cf1"/>
<rect x="835.03" y="670.05" width="9.70" height="9.70" fill="#4e9cf1"/>
<rect x="846.82" y="670.05" width="9.70" height="9.70" fill="#4e9cf1"/>
<rect x="858.61" y="670.05" width="9.70" height="9.70" fill="#4e9cf1"/>
<rect x="876.29" y="670.05" width="9.70" height="9.70" fill="#4e9cf1"/>
<rect x="888.08" y="670.05" width="9.70" height="9.70" fill="#4e9cf1"/>
<rect x="899.88" y="670.05" width="9.70" height="9.70" fill="#4e9cf1"/>
<rect x="911.67" y="670.05" width="9.70" height="9.70" fill="#4e9cf1"/>
<rect x="923.46" y="670.05" width="9.70" height="9.70" fill="#4e9cf1"/>
<polyline points="780.93,668.99 798.62,633.92 810.40,566.55 822.20,508.24 835.00,438.30" fill="none" stroke="#000000" stroke-width="3.5" stroke-linejoin="round"/>
<circle cx="780.93" cy="668.99" r="4.85" fill="#000000"/>
<circle cx="798.62" cy="633.92" r="4.85" fill="#000000"/>
<circle cx="810.40" cy="566.55" r="4.85" fill="#000000"/>
<circle cx="822.20" cy="508.24" r="4.85" fill="#000000"/>
<polyline points="769.14,674.90 780.93,674.90 798.62,646.93 810.40,548.43 822.20,575.61 839.88,596.49 851.67,644.96 863.46,663.08 881.14,674.90 892.93,674.90 904.73,674.90 916.52,674.90 928.31,674.90" fill="none" stroke="#a6a6a9" stroke-width="3.5" stroke-linejoin="round"/>
<polygon points="769.14,669.28 775.19,680.52 763.09,680.52" fill="#a6a6a9"/>
<polygon points="780.93,669.28 786.98,680.52 774.88,680.52" fill="#a6a6a9"/>
<polygon points="798.62,641.31 804.66,652.54 792.57,652.54" fill="#a6a6a9"/>
<polygon points="810.40,542.81 816.45,554.04 804.36,554.04" fill="#a6a6a9"/>
<polygon points="822.20,570.00 828.24,581.23 816.15,581.23" fill="#a6a6a9"/>
<polygon points="839.88,590.88 845.93,602.11 833.83,602.11" fill="#a6a6a9"/>
<polygon points="851.67,639.34 857.72,650.57 845.62,650.57" fill="#a6a6a9"/>
<polygon points="863.46,657.46 869.51,668.70 857.41,668.70" fill="#a6a6a9"/>
<polygon points="881.14,669.28 887.19,680.52 875.10,680.52" fill="#a6a6a9"/>
<polygon points="892.93,669.28 898.98,680.52 886.89,680.52" fill="#a6a6a9"/>
<polygon points="904.73,669.28 910.77,680.52 898.68,680.52" fill="#a6a6a9"/>
<polygon points="916.52,669.28 922.56,680.52 910.47,680.52" fill="#a6a6a9"/>
<polygon points="928.31,669.28 934.35,680.52 922.26,680.52" fill="#a6a6a9"/>
<line x1="746.00" y1="615.70" x2="746.00" y2="652.00" stroke="#c8141e" stroke-width="1.9" stroke-linecap="butt"/>
<polygon points="739.8,649.2 745.8,651.6 751.7,649.2 745.7,663.8" fill="#e0101a"/>
<line x1="588.00" y1="443.10" x2="614.20" y2="443.10" stroke="#000000" stroke-width="3.5" stroke-linecap="butt"/>
<circle cx="601.10" cy="443.10" r="4.85" fill="#000000"/>
<text x="627.90" y="449.90" font-size="20">WT</text>
<line x1="588.00" y1="465.40" x2="614.20" y2="465.40" stroke="#4e9cf1" stroke-width="3.5" stroke-linecap="butt"/>
<rect x="596.25" y="460.55" width="9.70" height="9.70" fill="#4e9cf1"/>
<text x="627.90" y="472.20" font-size="20"><tspan x="625.2" font-style="italic" letter-spacing="0.45">Tlr3/7/9</tspan><tspan x="695.4" font-size="14" dy="-9">–<tspan font-style="italic">/</tspan>–</tspan><tspan x="717.4" dy="9" font-style="italic">regressor</tspan></text>
<line x1="588.00" y1="490.60" x2="614.20" y2="490.60" stroke="#a6a6a9" stroke-width="3.5" stroke-linecap="butt"/>
<polygon points="601.10,484.98 607.15,496.22 595.05,496.22" fill="#a6a6a9"/>
<text x="627.90" y="497.40" font-size="20"><tspan x="625.2" font-style="italic" letter-spacing="0.45">Tlr3/7/9</tspan><tspan x="695.4" font-size="14" dy="-9">–<tspan font-style="italic">/</tspan>–</tspan></text>
</svg>
</body></html>
